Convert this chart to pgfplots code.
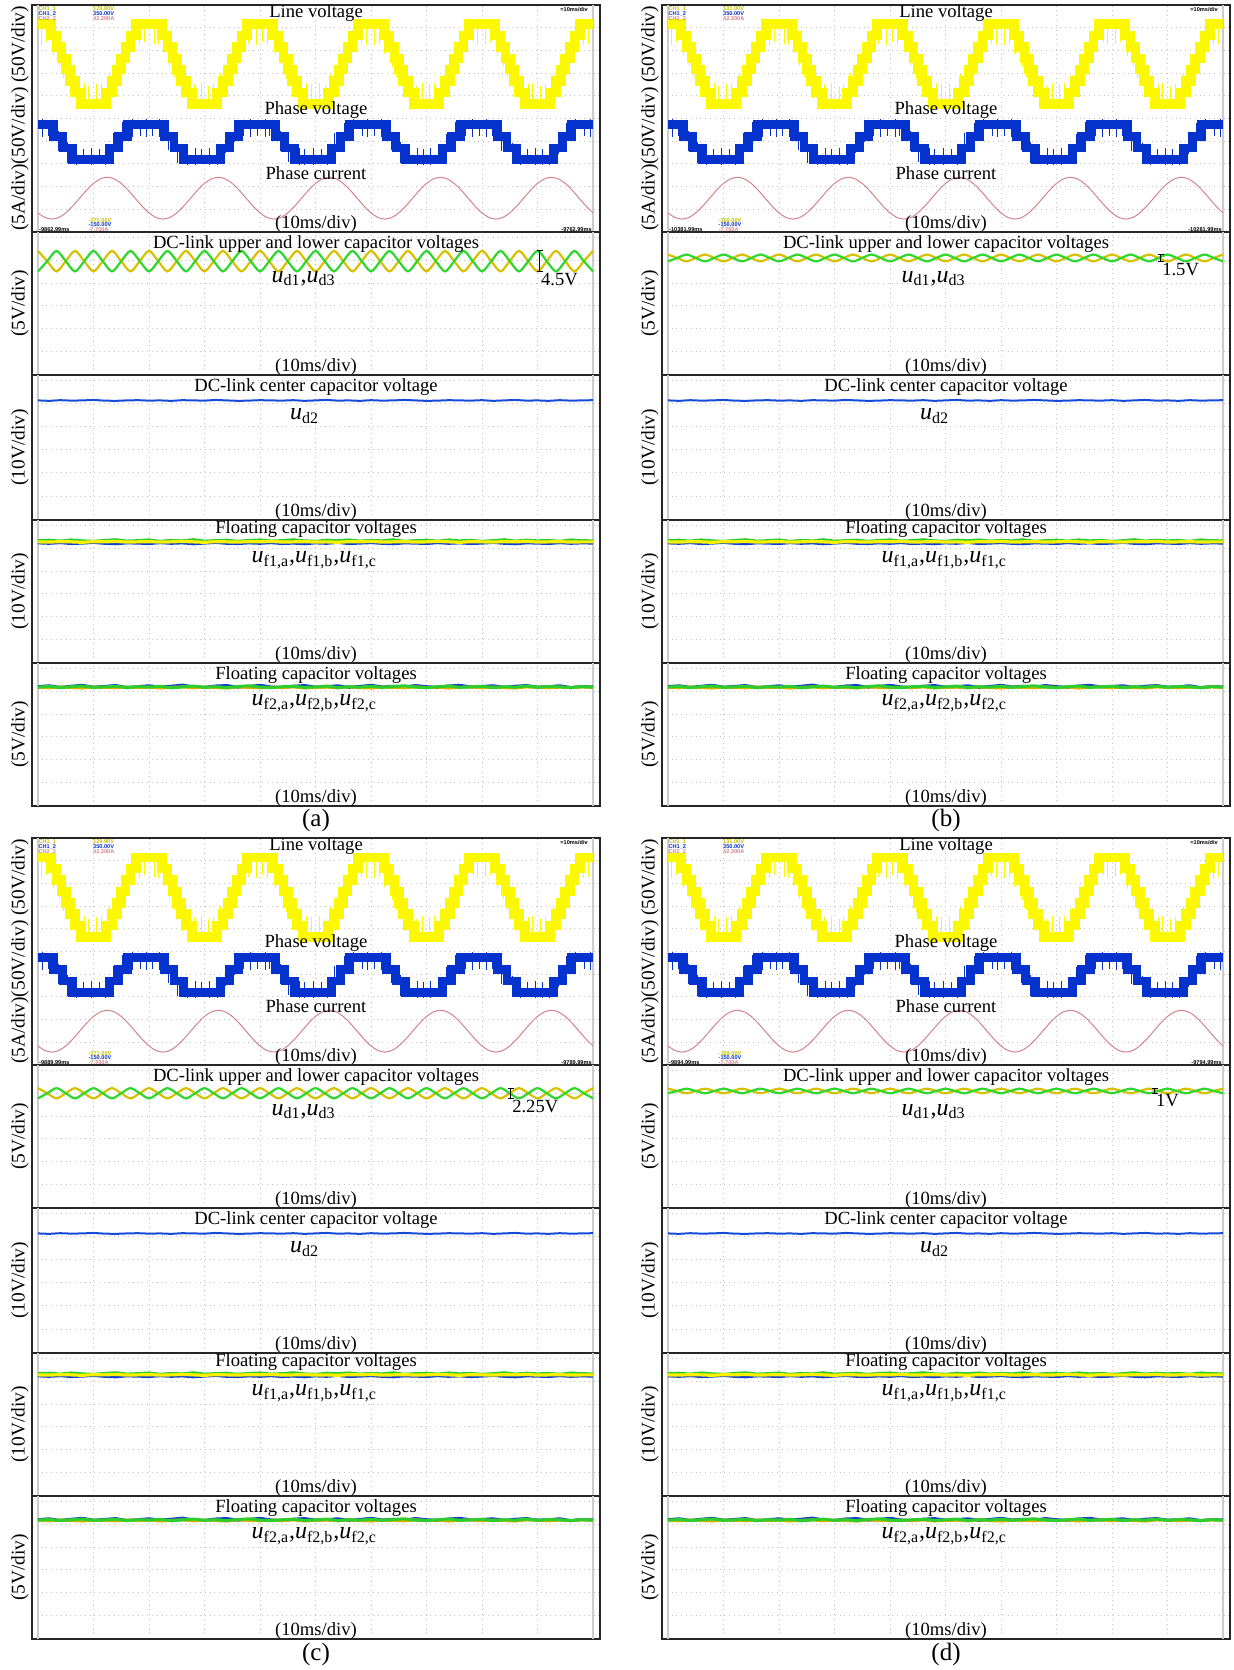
\documentclass[border=0pt]{standalone}
\usepackage{fontspec}
\setmainfont{Liberation Serif}
\newfontfamily\scopefont{Liberation Sans}
\usepackage{pgfplots}
\usepackage{pgfplotstable}
\pgfplotsset{compat=1.18}

% scope trace colours
\definecolor{lineY}{RGB}{252,248,0}
\definecolor{phaseB}{RGB}{5,50,205}
\definecolor{curP}{RGB}{212,130,140}
\definecolor{dcY}{RGB}{215,192,0}
\definecolor{dcG}{RGB}{45,215,45}
\definecolor{ctrB}{RGB}{20,75,215}
\definecolor{fcY}{RGB}{250,240,0}
\definecolor{fcG}{RGB}{45,205,45}
\definecolor{fcB}{RGB}{15,65,205}
\definecolor{fcO}{RGB}{215,180,0}
\definecolor{chY}{RGB}{200,190,0}

% line voltage: centre of the switching band (div)
\pgfplotstableread{
t y
0 9.15
2.30 8.65
3.33 8.15
4.20 7.65
5.00 7.15
5.80 6.65
6.67 6.15
7.70 5.65
12.30 6.15
13.33 6.65
14.20 7.15
15.00 7.65
15.80 8.15
16.67 8.65
17.70 9.15
22.30 8.65
23.33 8.15
24.20 7.65
25.00 7.15
25.80 6.65
26.67 6.15
27.70 5.65
32.30 6.15
33.33 6.65
34.20 7.15
35.00 7.65
35.80 8.15
36.67 8.65
37.70 9.15
42.30 8.65
43.33 8.15
44.20 7.65
45.00 7.15
45.80 6.65
46.67 6.15
47.70 5.65
52.30 6.15
53.33 6.65
54.20 7.15
55.00 7.65
55.80 8.15
56.67 8.65
57.70 9.15
62.30 8.65
63.33 8.15
64.20 7.65
65.00 7.15
65.80 6.65
66.67 6.15
67.70 5.65
72.30 6.15
73.33 6.65
74.20 7.15
75.00 7.65
75.80 8.15
76.67 8.65
77.70 9.15
82.30 8.65
83.33 8.15
84.20 7.65
85.00 7.15
85.80 6.65
86.67 6.15
87.70 5.65
92.30 6.15
93.33 6.65
94.20 7.15
95.00 7.65
95.80 8.15
96.67 8.65
97.70 9.15
100 9.15
}\lineV

% line voltage: switching spikes (centre, half length)
\pgfplotstableread{
t y e
0.6 8.80 0.55
1.5 8.80 0.45
2.8 8.30 0.50
3.9 7.80 0.50
4.6 7.30 0.50
6.2 6.45 0.50
8.3 6.00 0.55
9.1 6.00 0.45
10.6 6.00 0.50
11.5 6.00 0.55
12.8 6.45 0.50
14.6 7.35 0.50
16.2 8.25 0.50
18.3 8.80 0.55
19.2 8.80 0.45
20.9 8.80 0.50
21.7 8.80 0.55
22.6 8.35 0.45
23.7 7.85 0.55
24.5 7.30 0.45
26.1 6.45 0.55
28.1 6.00 0.50
29.4 6.00 0.55
30.8 6.00 0.45
31.6 6.00 0.50
32.9 6.45 0.55
34.5 7.35 0.45
36.1 8.25 0.55
38.0 8.80 0.50
39.3 8.80 0.55
40.5 8.80 0.45
41.4 8.80 0.55
42.8 8.30 0.50
43.8 7.80 0.45
44.7 7.30 0.55
46.3 6.45 0.45
48.4 6.00 0.55
49.2 6.00 0.50
50.7 6.00 0.55
51.8 6.00 0.45
52.7 6.45 0.50
54.6 7.35 0.55
56.3 8.25 0.45
58.2 8.80 0.50
59.1 8.80 0.55
60.7 8.80 0.55
61.6 8.80 0.50
62.5 8.35 0.50
63.9 7.80 0.55
64.6 7.30 0.45
66.2 6.45 0.55
68.2 6.00 0.45
69.3 6.00 0.55
70.6 6.00 0.50
71.5 6.00 0.55
72.8 6.45 0.45
74.7 7.35 0.50
76.2 8.25 0.55
78.4 8.80 0.45
79.2 8.80 0.55
80.6 8.80 0.50
81.5 8.80 0.45
82.7 8.30 0.55
83.9 7.80 0.50
84.5 7.30 0.50
86.2 6.45 0.45
88.3 6.00 0.50
89.1 6.00 0.55
90.6 6.00 0.45
91.4 6.00 0.50
92.8 6.45 0.55
94.6 7.35 0.50
96.2 8.25 0.45
98.3 8.80 0.55
99.2 8.80 0.50
}\lineS

% phase voltage: centre of the switching band (div)
\pgfplotstableread{
t y
0 4.72
2.83 4.20
4.50 3.70
6.17 3.18
12.83 3.70
14.50 4.20
16.17 4.72
22.83 4.20
24.50 3.70
26.17 3.18
32.83 3.70
34.50 4.20
36.17 4.72
42.83 4.20
44.50 3.70
46.17 3.18
52.83 3.70
54.50 4.20
56.17 4.72
62.83 4.20
64.50 3.70
66.17 3.18
72.83 3.70
74.50 4.20
76.17 4.72
82.83 4.20
84.50 3.70
86.17 3.18
92.83 3.70
94.50 4.20
96.17 4.72
100 4.72
}\phaseV

% phase voltage: switching spikes
\pgfplotstableread{
t y e
0.8 4.58 0.38
1.9 4.58 0.33
3.6 4.00 0.45
5.3 3.50 0.45
7.0 3.32 0.38
8.2 3.32 0.33
9.6 3.32 0.38
11.0 3.32 0.33
12.2 3.32 0.38
13.6 3.90 0.45
15.3 4.40 0.45
17.0 4.58 0.38
18.4 4.58 0.33
19.5 4.58 0.38
20.6 4.58 0.35
21.8 4.58 0.38
23.5 4.00 0.40
25.2 3.50 0.45
26.9 3.32 0.35
28.3 3.32 0.38
29.5 3.32 0.33
30.9 3.32 0.38
32.3 3.32 0.35
33.7 3.90 0.40
35.4 4.40 0.45
37.1 4.58 0.35
38.3 4.58 0.38
39.6 4.58 0.33
40.9 4.58 0.38
41.7 4.58 0.33
43.6 4.00 0.45
45.2 3.50 0.40
47.1 3.32 0.38
48.0 3.32 0.35
49.7 3.32 0.38
51.1 3.32 0.33
52.1 3.32 0.38
53.5 3.90 0.45
55.2 4.40 0.40
56.9 4.58 0.38
58.5 4.58 0.33
59.4 4.58 0.38
60.7 4.58 0.33
61.9 4.58 0.38
63.7 4.00 0.40
65.3 3.50 0.45
66.8 3.32 0.33
68.3 3.32 0.38
69.5 3.32 0.35
70.8 3.32 0.38
72.4 3.32 0.33
73.6 3.90 0.40
75.3 4.40 0.45
77.0 4.58 0.33
78.2 4.58 0.38
79.6 4.58 0.35
80.8 4.58 0.38
81.9 4.58 0.35
83.5 4.00 0.45
85.4 3.50 0.40
87.0 3.32 0.38
88.1 3.32 0.33
89.6 3.32 0.38
90.9 3.32 0.35
92.2 3.32 0.38
93.7 3.90 0.45
95.3 4.40 0.40
96.9 4.58 0.38
98.4 4.58 0.33
99.5 4.58 0.38
}\phaseS

% phase current (div)
\pgfplotstableread{
t y
0 0.84
1.25 0.64
2.5 0.57
3.75 0.64
5 0.84
6.25 1.14
7.5 1.49
8.75 1.84
10 2.14
11.25 2.34
12.5 2.41
13.75 2.34
15 2.14
16.25 1.84
17.5 1.49
18.75 1.14
20 0.84
21.25 0.64
22.5 0.57
23.75 0.64
25 0.84
26.25 1.14
27.5 1.49
28.75 1.84
30 2.14
31.25 2.34
32.5 2.41
33.75 2.34
35 2.14
36.25 1.84
37.5 1.49
38.75 1.14
40 0.84
41.25 0.64
42.5 0.57
43.75 0.64
45 0.84
46.25 1.14
47.5 1.49
48.75 1.84
50 2.14
51.25 2.34
52.5 2.41
53.75 2.34
55 2.14
56.25 1.84
57.5 1.49
58.75 1.14
60 0.84
61.25 0.64
62.5 0.57
63.75 0.64
65 0.84
66.25 1.14
67.5 1.49
68.75 1.84
70 2.14
71.25 2.34
72.5 2.41
73.75 2.34
75 2.14
76.25 1.84
77.5 1.49
78.75 1.14
80 0.84
81.25 0.64
82.5 0.57
83.75 0.64
85 0.84
86.25 1.14
87.5 1.49
88.75 1.84
90 2.14
91.25 2.34
92.5 2.41
93.75 2.34
95 2.14
96.25 1.84
97.5 1.49
98.75 1.14
100 0.84
}\phaseI

% DC-link upper/lower capacitor voltages (V), cases a-d
\pgfplotstableread{
t a1 a3 b1 b3 c1 c3 d1 d3
0.000 27.05 22.55 26.25 24.75 26.125 23.875 26.00 25.00
1.667 24.80 24.80 25.50 25.50 25.000 25.000 25.50 25.50
3.333 22.55 27.05 24.75 26.25 23.875 26.125 25.00 26.00
5.000 24.80 24.80 25.50 25.50 25.000 25.000 25.50 25.50
6.667 27.05 22.55 26.25 24.75 26.125 23.875 26.00 25.00
8.333 24.80 24.80 25.50 25.50 25.000 25.000 25.50 25.50
10.000 22.55 27.05 24.75 26.25 23.875 26.125 25.00 26.00
11.667 24.80 24.80 25.50 25.50 25.000 25.000 25.50 25.50
13.333 27.05 22.55 26.25 24.75 26.125 23.875 26.00 25.00
15.000 24.80 24.80 25.50 25.50 25.000 25.000 25.50 25.50
16.667 22.55 27.05 24.75 26.25 23.875 26.125 25.00 26.00
18.333 24.80 24.80 25.50 25.50 25.000 25.000 25.50 25.50
20.000 27.05 22.55 26.25 24.75 26.125 23.875 26.00 25.00
21.667 24.80 24.80 25.50 25.50 25.000 25.000 25.50 25.50
23.333 22.55 27.05 24.75 26.25 23.875 26.125 25.00 26.00
25.000 24.80 24.80 25.50 25.50 25.000 25.000 25.50 25.50
26.667 27.05 22.55 26.25 24.75 26.125 23.875 26.00 25.00
28.333 24.80 24.80 25.50 25.50 25.000 25.000 25.50 25.50
30.000 22.55 27.05 24.75 26.25 23.875 26.125 25.00 26.00
31.667 24.80 24.80 25.50 25.50 25.000 25.000 25.50 25.50
33.333 27.05 22.55 26.25 24.75 26.125 23.875 26.00 25.00
35.000 24.80 24.80 25.50 25.50 25.000 25.000 25.50 25.50
36.667 22.55 27.05 24.75 26.25 23.875 26.125 25.00 26.00
38.333 24.80 24.80 25.50 25.50 25.000 25.000 25.50 25.50
40.000 27.05 22.55 26.25 24.75 26.125 23.875 26.00 25.00
41.667 24.80 24.80 25.50 25.50 25.000 25.000 25.50 25.50
43.333 22.55 27.05 24.75 26.25 23.875 26.125 25.00 26.00
45.000 24.80 24.80 25.50 25.50 25.000 25.000 25.50 25.50
46.667 27.05 22.55 26.25 24.75 26.125 23.875 26.00 25.00
48.333 24.80 24.80 25.50 25.50 25.000 25.000 25.50 25.50
50.000 22.55 27.05 24.75 26.25 23.875 26.125 25.00 26.00
51.667 24.80 24.80 25.50 25.50 25.000 25.000 25.50 25.50
53.333 27.05 22.55 26.25 24.75 26.125 23.875 26.00 25.00
55.000 24.80 24.80 25.50 25.50 25.000 25.000 25.50 25.50
56.667 22.55 27.05 24.75 26.25 23.875 26.125 25.00 26.00
58.333 24.80 24.80 25.50 25.50 25.000 25.000 25.50 25.50
60.000 27.05 22.55 26.25 24.75 26.125 23.875 26.00 25.00
61.667 24.80 24.80 25.50 25.50 25.000 25.000 25.50 25.50
63.333 22.55 27.05 24.75 26.25 23.875 26.125 25.00 26.00
65.000 24.80 24.80 25.50 25.50 25.000 25.000 25.50 25.50
66.667 27.05 22.55 26.25 24.75 26.125 23.875 26.00 25.00
68.333 24.80 24.80 25.50 25.50 25.000 25.000 25.50 25.50
70.000 22.55 27.05 24.75 26.25 23.875 26.125 25.00 26.00
71.667 24.80 24.80 25.50 25.50 25.000 25.000 25.50 25.50
73.333 27.05 22.55 26.25 24.75 26.125 23.875 26.00 25.00
75.000 24.80 24.80 25.50 25.50 25.000 25.000 25.50 25.50
76.667 22.55 27.05 24.75 26.25 23.875 26.125 25.00 26.00
78.333 24.80 24.80 25.50 25.50 25.000 25.000 25.50 25.50
80.000 27.05 22.55 26.25 24.75 26.125 23.875 26.00 25.00
81.667 24.80 24.80 25.50 25.50 25.000 25.000 25.50 25.50
83.333 22.55 27.05 24.75 26.25 23.875 26.125 25.00 26.00
85.000 24.80 24.80 25.50 25.50 25.000 25.000 25.50 25.50
86.667 27.05 22.55 26.25 24.75 26.125 23.875 26.00 25.00
88.333 24.80 24.80 25.50 25.50 25.000 25.000 25.50 25.50
90.000 22.55 27.05 24.75 26.25 23.875 26.125 25.00 26.00
91.667 24.80 24.80 25.50 25.50 25.000 25.000 25.50 25.50
93.333 27.05 22.55 26.25 24.75 26.125 23.875 26.00 25.00
95.000 24.80 24.80 25.50 25.50 25.000 25.000 25.50 25.50
96.667 22.55 27.05 24.75 26.25 23.875 26.125 25.00 26.00
98.333 24.80 24.80 25.50 25.50 25.000 25.000 25.50 25.50
100.000 27.05 22.55 26.25 24.75 26.125 23.875 26.00 25.00
}\dclink

% centre and floating capacitor voltages (div)
\pgfplotstableread{
t d2 f1a f1b f1c f2a f2b f2c
0 5.14 5.24 5.33 5.28 5.20 5.17 5.18
2 5.12 5.22 5.35 5.27 5.24 5.15 5.21
4 5.15 5.25 5.31 5.29 5.17 5.19 5.16
6 5.13 5.21 5.36 5.28 5.22 5.16 5.20
8 5.14 5.23 5.32 5.26 5.26 5.14 5.23
10 5.16 5.26 5.30 5.29 5.18 5.18 5.17
12 5.13 5.22 5.34 5.28 5.21 5.17 5.19
14 5.12 5.20 5.37 5.30 5.25 5.15 5.22
16 5.14 5.24 5.31 5.27 5.16 5.19 5.16
18 5.15 5.23 5.33 5.28 5.20 5.16 5.20
20 5.13 5.21 5.36 5.29 5.24 5.18 5.18
22 5.14 5.25 5.30 5.27 5.18 5.14 5.22
24 5.12 5.22 5.34 5.28 5.22 5.17 5.15
26 5.15 5.24 5.32 5.30 5.27 5.19 5.19
28 5.14 5.20 5.37 5.28 5.19 5.15 5.23
30 5.13 5.23 5.31 5.26 5.17 5.18 5.17
32 5.16 5.26 5.33 5.29 5.23 5.16 5.20
34 5.14 5.22 5.35 5.28 5.25 5.14 5.16
36 5.12 5.21 5.30 5.27 5.18 5.19 5.21
38 5.13 5.24 5.34 5.29 5.21 5.17 5.24
40 5.15 5.22 5.36 5.28 5.26 5.15 5.18
42 5.14 5.25 5.31 5.30 5.19 5.18 5.16
44 5.13 5.21 5.33 5.27 5.16 5.16 5.20
46 5.15 5.23 5.37 5.28 5.22 5.19 5.22
48 5.12 5.20 5.32 5.29 5.25 5.14 5.17
50 5.14 5.24 5.30 5.27 5.18 5.17 5.19
52 5.16 5.22 5.35 5.28 5.20 5.18 5.23
54 5.13 5.26 5.33 5.26 5.24 5.15 5.16
56 5.14 5.21 5.36 5.29 5.17 5.19 5.20
58 5.12 5.23 5.31 5.28 5.21 5.16 5.18
60 5.15 5.25 5.34 5.30 5.26 5.14 5.22
62 5.13 5.22 5.32 5.27 5.19 5.18 5.17
64 5.14 5.20 5.37 5.28 5.22 5.17 5.21
66 5.16 5.24 5.30 5.29 5.18 5.15 5.24
68 5.14 5.23 5.33 5.27 5.25 5.19 5.18
70 5.12 5.21 5.35 5.28 5.20 5.16 5.16
72 5.13 5.25 5.31 5.30 5.17 5.18 5.20
74 5.15 5.22 5.36 5.28 5.23 5.14 5.23
76 5.14 5.24 5.32 5.26 5.26 5.17 5.17
78 5.13 5.21 5.34 5.29 5.19 5.19 5.19
80 5.15 5.23 5.30 5.28 5.21 5.15 5.22
82 5.12 5.26 5.33 5.27 5.24 5.18 5.16
84 5.14 5.22 5.37 5.29 5.17 5.16 5.20
86 5.16 5.20 5.31 5.28 5.22 5.14 5.18
88 5.13 5.24 5.35 5.30 5.25 5.19 5.23
90 5.14 5.23 5.32 5.27 5.18 5.17 5.17
92 5.12 5.21 5.34 5.28 5.20 5.15 5.21
94 5.15 5.25 5.30 5.29 5.24 5.18 5.19
96 5.13 5.22 5.36 5.27 5.16 5.16 5.16
98 5.14 5.24 5.33 5.28 5.21 5.19 5.20
100 5.15 5.23 5.32 5.28 5.19 5.17 5.18
}\caps

\newcommand\ttl{\fontsize{9.3}{10}\selectfont}
\newcommand\symf{\fontsize{12}{12}\selectfont}
\newcommand\tinyfont{\scopefont\bfseries\fontsize{2.8}{3}\selectfont}
\newcommand\usub[2]{\textit{#1}\textsubscript{#2}}

\pgfplotsset{
  scopeaxis/.style={
    scale only axis, width=284pt,
    xmin=-1.081, xmax=101.26,
    xtick={10,20,...,90},
    xticklabels={}, yticklabels={},
    extra x ticks={0,100}, extra x tick labels={},
    extra x tick style={major grid style={solid, black!20, line width=0.6pt}},
    major tick length=0pt, tick style={draw=none},
    grid=major,
    major grid style={dotted, black!24, line width=0.45pt},
    axis line style={black!85, line width=0.75pt},
    every axis y label/.style={at={(axis description cs:-0.021,0.5)}, rotate=90,
      anchor=center, font=\fontsize{9.7}{10}\selectfont},
  },
  spikes/.style={draw=none, no markers,
    error bars/.cd, y dir=both, y explicit, error mark=none,
    error bar style={draw=#1, solid, line width=0.45pt}},
}

% scope readout text of the top screen
\newcommand\scopetext{%
  \node[anchor=west, font=\tinyfont, text=chY, inner sep=0pt] at (axis description cs:0.011,0.985) {CH1\_1};
  \node[anchor=west, font=\tinyfont, text=phaseB, inner sep=0pt] at (axis description cs:0.011,0.962) {CH1\_2};
  \node[anchor=west, font=\tinyfont, text=curP, inner sep=0pt] at (axis description cs:0.011,0.939) {CH2\_2};
  \node[anchor=west, font=\tinyfont, text=chY, inner sep=0pt] at (axis description cs:0.107,0.985) {\chval};
  \node[anchor=west, font=\tinyfont, text=phaseB, inner sep=0pt] at (axis description cs:0.107,0.962) {350.00V};
  \node[anchor=west, font=\tinyfont, text=curP, inner sep=0pt] at (axis description cs:0.107,0.939) {42.300A};
  \node[anchor=east, font=\tinyfont, text=black, inner sep=0pt] at (axis description cs:0.979,0.978) {=10ms/div};
  \node[anchor=west, font=\tinyfont, text=chY, inner sep=0pt] at (axis description cs:0.099,0.05) {\lowval};
  \node[anchor=west, font=\tinyfont, text=phaseB, inner sep=0pt] at (axis description cs:0.099,0.031) {-150.00V};
  \node[anchor=west, font=\tinyfont, text=curP, inner sep=0pt] at (axis description cs:0.099,0.012) {-7.700A};
  \node[anchor=west, font=\tinyfont, text=black, inner sep=0pt] at (axis description cs:0.012,0.012) {\tleft};
  \node[anchor=east, font=\tinyfont, text=black, inner sep=0pt] at (axis description cs:0.986,0.012) {\tright};
}

% one case: #1 left, #2 top, #3/#4 DC-link columns, #5 time of the ripple marker,
% #6/#7 ripple min/max (V), #8 ripple text
\newcommand\panel[8]{%
  \begin{axis}[scopeaxis, at={(#1,#2)}, anchor=north west, height=113.5pt,
      ymin=0, ymax=10, ytick={1,2,...,9}, ylabel={(5A/div)(50V/div) (50V/div)}]
    \addplot[const plot, draw=lineY, line width=4.8pt] table[x=t,y=y] {\lineV};
    \addplot[spikes=lineY] table[x=t,y=y,y error=e] {\lineS};
    \addplot[const plot, draw=phaseB, line width=4.4pt] table[x=t,y=y] {\phaseV};
    \addplot[spikes=phaseB] table[x=t,y=y,y error=e] {\phaseS};
    \addplot[curP, line width=0.5pt, smooth] table[x=t,y=y] {\phaseI};
    \node[font=\ttl] at (axis description cs:0.5,0.965) {Line voltage};
    \node[font=\ttl] at (axis description cs:0.5,0.537) {Phase voltage};
    \node[font=\ttl] at (axis description cs:0.5,0.26) {Phase current};
    \node[font=\ttl] at (axis description cs:0.5,0.033) {(10ms/div)};
    \scopetext
  \end{axis}
  \begin{axis}[scopeaxis, at={(#1,#2-113.5pt)}, anchor=north west, height=71.5pt,
      ymin=-0.2, ymax=31.2, ytick={0,5,...,30}, ylabel={(5V/div)}]
    \addplot[dcY, line width=1.1pt, smooth] table[x=t,y=#3] {\dclink};
    \addplot[dcG, line width=1.1pt, smooth] table[x=t,y=#4] {\dclink};
    \addplot[black, line width=0.5pt, mark=-, mark size=1.6pt] coordinates {(#5,#6) (#5,#7)};
    \node[font=\ttl] at (axis description cs:0.5,0.915) {DC-link upper and lower capacitor voltages};
    \node[font=\symf] at (axis description cs:0.478,0.675) {\usub{u}{d1},\usub{u}{d3}};
    \node[font=\ttl, anchor=north west, inner sep=0.5pt] at (axis cs:#5,#6) {#8};
    \node[font=\ttl] at (axis description cs:0.5,0.056) {(10ms/div)};
  \end{axis}
  \begin{axis}[scopeaxis, at={(#1,#2-185pt)}, anchor=north west, height=72.5pt,
      ymin=-0.04, ymax=6.24, ytick={0,...,6}, ylabel={(10V/div)}]
    \addplot[ctrB, line width=1pt] table[x=t,y=d2] {\caps};
    \node[font=\ttl] at (axis description cs:0.5,0.915) {DC-link center capacitor voltage};
    \node[font=\symf] at (axis description cs:0.48,0.715) {\usub{u}{d2}};
    \node[font=\ttl] at (axis description cs:0.5,0.056) {(10ms/div)};
  \end{axis}
  \begin{axis}[scopeaxis, at={(#1,#2-257.5pt)}, anchor=north west, height=71.5pt,
      ymin=-0.04, ymax=6.24, ytick={0,...,6}, ylabel={(10V/div)}]
    \addplot[fcB, line width=1.6pt] table[x=t,y=f1a] {\caps};
    \addplot[fcG, line width=1.6pt] table[x=t,y=f1b] {\caps};
    \addplot[fcY, line width=1.6pt] table[x=t,y=f1c] {\caps};
    \node[font=\ttl] at (axis description cs:0.5,0.935) {Floating capacitor voltages};
    \node[font=\symf] at (axis description cs:0.497,0.72) {\usub{u}{f1,a},\usub{u}{f1,b},\usub{u}{f1,c}};
    \node[font=\ttl] at (axis description cs:0.5,0.056) {(10ms/div)};
  \end{axis}
  \begin{axis}[scopeaxis, at={(#1,#2-329pt)}, anchor=north west, height=71.5pt,
      ymin=-0.04, ymax=6.24, ytick={0,...,6}, ylabel={(5V/div)}]
    \addplot[fcB, line width=1.5pt] table[x=t,y=f2a] {\caps};
    \addplot[fcO, line width=1.5pt] table[x=t,y=f2b] {\caps};
    \addplot[fcG, line width=1.5pt] table[x=t,y=f2c] {\caps};
    \node[font=\ttl] at (axis description cs:0.5,0.915) {Floating capacitor voltages};
    \node[font=\symf] at (axis description cs:0.497,0.72) {\usub{u}{f2,a},\usub{u}{f2,b},\usub{u}{f2,c}};
    \node[font=\ttl] at (axis description cs:0.5,0.056) {(10ms/div)};
  \end{axis}
}

\begin{document}
\begin{tikzpicture}
  \path[use as bounding box] (0,0) rectangle (616.5pt,-835pt);

  \def\chval{129.00V}\def\lowval{-371.00V}\def\tleft{-9862.99ms}\def\tright{-9762.99ms}
  \panel{16pt}{-2.5pt}{a1}{a3}{90.4}{22.55}{27.05}{4.5V}

  \def\chval{131.00V}\def\lowval{-369.00V}\def\tleft{-10381.99ms}\def\tright{-10281.99ms}
  \panel{331pt}{-2.5pt}{b1}{b3}{88.8}{24.75}{26.25}{1.5V}

  \def\chval{129.00V}\def\lowval{-371.00V}\def\tleft{-9889.99ms}\def\tright{-9789.99ms}
  \panel{16pt}{-419pt}{c1}{c3}{85.2}{23.875}{26.125}{2.25V}

  \def\chval{131.00V}\def\lowval{-369.00V}\def\tleft{-9894.99ms}\def\tright{-9794.99ms}
  \panel{331pt}{-419pt}{d1}{d3}{87.7}{25.0}{26.0}{1V}

  \node[font=\fontsize{12.5}{13}\selectfont] at (158pt,-410pt) {(a)};
  \node[font=\fontsize{12.5}{13}\selectfont] at (473pt,-410pt) {(b)};
  \node[font=\fontsize{12.5}{13}\selectfont] at (158pt,-827pt) {(c)};
  \node[font=\fontsize{12.5}{13}\selectfont] at (473pt,-827pt) {(d)};
\end{tikzpicture}
\end{document}
